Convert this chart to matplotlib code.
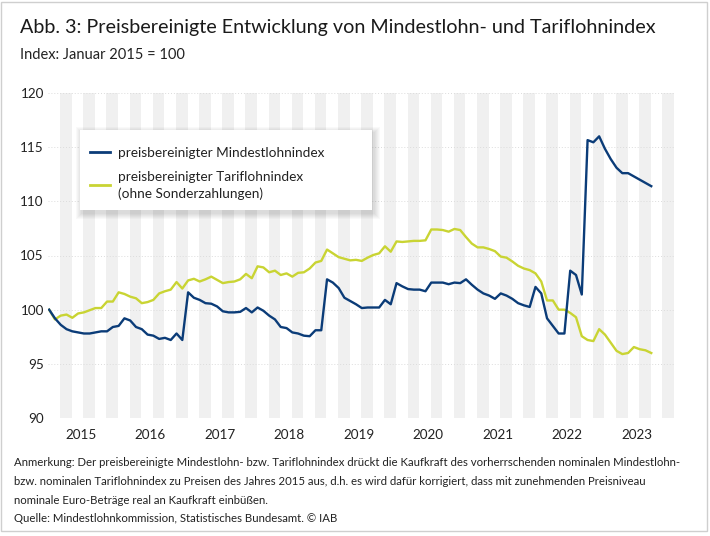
import matplotlib
matplotlib.use('Agg')
import matplotlib.pyplot as plt
from matplotlib.patches import Rectangle
from matplotlib.lines import Line2D
import numpy as np

plt.rcParams['font.family'] = ['Lato', 'DejaVu Sans']

W, H = 710, 536

# monthly index values, January 2015 .. September 2023 (January 2015 = 100)
mindestlohn = [100.0, 99.2, 98.6, 98.2, 98.0, 97.9, 97.8, 97.8, 97.9, 98.0, 98.0, 98.4,
               98.5, 99.2, 99.0, 98.4, 98.2, 97.7, 97.6, 97.3, 97.4, 97.2, 97.8, 97.2,
               101.6, 101.1, 100.9, 100.6, 100.55, 100.3, 99.85, 99.75, 99.75, 99.8, 100.15, 99.75,
               100.2, 99.9, 99.45, 99.1, 98.4, 98.3, 97.9, 97.8, 97.6, 97.55, 98.1, 98.1,
               102.8, 102.5, 102.0, 101.1, 100.8, 100.5, 100.15, 100.2, 100.2, 100.2, 100.9, 100.5,
               102.45, 102.15, 101.9, 101.85, 101.85, 101.7, 102.5, 102.5, 102.5, 102.35, 102.5, 102.45,
               102.8, 102.3, 101.85, 101.5, 101.3, 101.0, 101.5, 101.3, 101.0, 100.6, 100.4, 100.25,
               102.1, 101.5, 99.2, 98.5, 97.8, 97.8, 103.6, 103.2, 101.4, 115.65, 115.45, 116.0,
               114.85, 113.9, 113.1, 112.6, 112.6, 112.3, 112.0, 111.7, 111.4]
tariflohn = [100.0, 99.1, 99.45, 99.55, 99.25, 99.65, 99.75, 99.95, 100.15, 100.15, 100.75, 100.75,
             101.6, 101.45, 101.2, 101.05, 100.6, 100.7, 100.9, 101.5, 101.7, 101.85, 102.55, 101.95,
             102.7, 102.85, 102.6, 102.8, 103.05, 102.75, 102.45, 102.55, 102.6, 102.8, 103.3, 102.9,
             104.0, 103.9, 103.45, 103.6, 103.2, 103.35, 103.05, 103.4, 103.45, 103.8, 104.35, 104.5,
             105.55, 105.2, 104.85, 104.7, 104.55, 104.6, 104.5, 104.8, 105.05, 105.2, 105.85, 105.35,
             106.3, 106.25, 106.3, 106.35, 106.35, 106.4, 107.4, 107.4, 107.35, 107.2, 107.45, 107.35,
             106.7, 106.1, 105.75, 105.75, 105.6, 105.4, 104.9, 104.8, 104.45, 104.05, 103.8, 103.65,
             103.35, 102.6, 100.85, 100.85, 100.0, 100.0, 99.7, 99.3, 97.55, 97.2, 97.1, 98.2,
             97.7, 96.95, 96.2, 95.9, 96.0, 96.55, 96.35, 96.25, 96.0]
years = [2015, 2016, 2017, 2018, 2019, 2020, 2021, 2022, 2023]
y_ticks = [90, 95, 100, 105, 110, 115, 120]
labels = ['preisbereinigter Mindestlohnindex',
          'preisbereinigter Tariflohnindex\n(ohne Sonderzahlungen)']

blue = '#0b3c78'
yellow = '#c9d433'
txt = '#222222'

months = np.arange(len(mindestlohn))

fig = plt.figure(figsize=(W / 100, H / 100), dpi=100)
ax = fig.add_axes([48 / W, 1 - 418 / H, 627 / W, 325 / H])

# alternating background stripes
for k in range(27):
    ax.axvspan(4 * k + 1.9, 4 * k + 3.9, color='#f0f0f0', lw=0, zorder=0)

ax.plot(months, tariflohn, color=yellow, lw=1.7, zorder=2, solid_joinstyle='round')
ax.plot(months, mindestlohn, color=blue, lw=1.7, zorder=3, solid_joinstyle='round')

ax.set_xlim(-0.2, 108.1)
ax.set_ylim(90, 120)
ax.set_yticks(y_ticks)
ax.set_xticks([12 * i + 5.5 for i in range(len(years))])
ax.set_xticklabels([str(y) for y in years])
ax.yaxis.grid(True, color='#dcdcdc', linestyle=(0, (1, 2)), lw=0.7)
ax.tick_params(axis='both', length=0, labelsize=9.7, labelcolor=txt)
ax.tick_params(axis='y', pad=3)
ax.tick_params(axis='x', pad=8)
for s in ax.spines.values():
    s.set_visible(False)

# legend box with soft shadow
bx, by, bw, bh = 80, 130, 292, 80
for r in range(1, 7):
    fig.patches.append(Rectangle(((bx + 2 - r) / W, 1 - (by + bh + 3 + r) / H),
                                 (bw + 2 * r) / W, (bh + 2 * r) / H,
                                 transform=fig.transFigure, fc='black', ec='none',
                                 alpha=0.025, zorder=2.5))
fig.patches.append(Rectangle((bx / W, 1 - (by + bh) / H), bw / W, bh / H,
                             transform=fig.transFigure, fc='white', ec='none', zorder=3))
handles = [Line2D([], [], color=blue, lw=2), Line2D([], [], color=yellow, lw=2)]
leg = fig.legend(handles, labels, loc='upper left', bbox_to_anchor=(90 / W, 1 - 147 / H),
                 bbox_transform=fig.transFigure, frameon=False, fontsize=9.8,
                 borderpad=0, borderaxespad=0, handlelength=1.45, handletextpad=0.6,
                 labelspacing=0.85)
for t in leg.get_texts():
    t.set_color(txt)
    t.set_linespacing(1.45)

# titles and notes
fig.text(20 / W, 1 - 28 / H, 'Abb. 3: Preisbereinigte Entwicklung von Mindestlohn- und Tariflohnindex',
         fontsize=14.2, va='center', ha='left', color='#1a1a1a')
fig.text(20 / W, 1 - 55 / H, 'Index: Januar 2015 = 100', fontsize=10.5, va='center', ha='left', color=txt)
notes = ['Anmerkung: Der preisbereinigte Mindestlohn- bzw. Tariflohnindex drückt die Kaufkraft des vorherrschenden nominalen Mindestlohn-',
         'bzw. nominalen Tariflohnindex zu Preisen des Jahres 2015 aus, d.h. es wird dafür korrigiert, dass mit zunehmenden Preisniveau',
         'nominale Euro-Beträge real an Kaufkraft einbüßen.']
for i, line in enumerate(notes):
    fig.text(14 / W, 1 - (463 + 18.5 * i) / H, line, fontsize=8.2, va='center', ha='left', color=txt)
fig.text(14 / W, 1 - 519 / H, 'Quelle: Mindestlohnkommission, Statistisches Bundesamt. © IAB',
         fontsize=8.2, va='center', ha='left', color=txt)

# outer frame
fig.patches.append(Rectangle((1 / W, 1 - 531 / H), 706 / W, 529 / H, transform=fig.transFigure,
                             fc='none', ec='#cfcfcf', lw=1, zorder=10))

fig.savefig('out.png', dpi=100)
